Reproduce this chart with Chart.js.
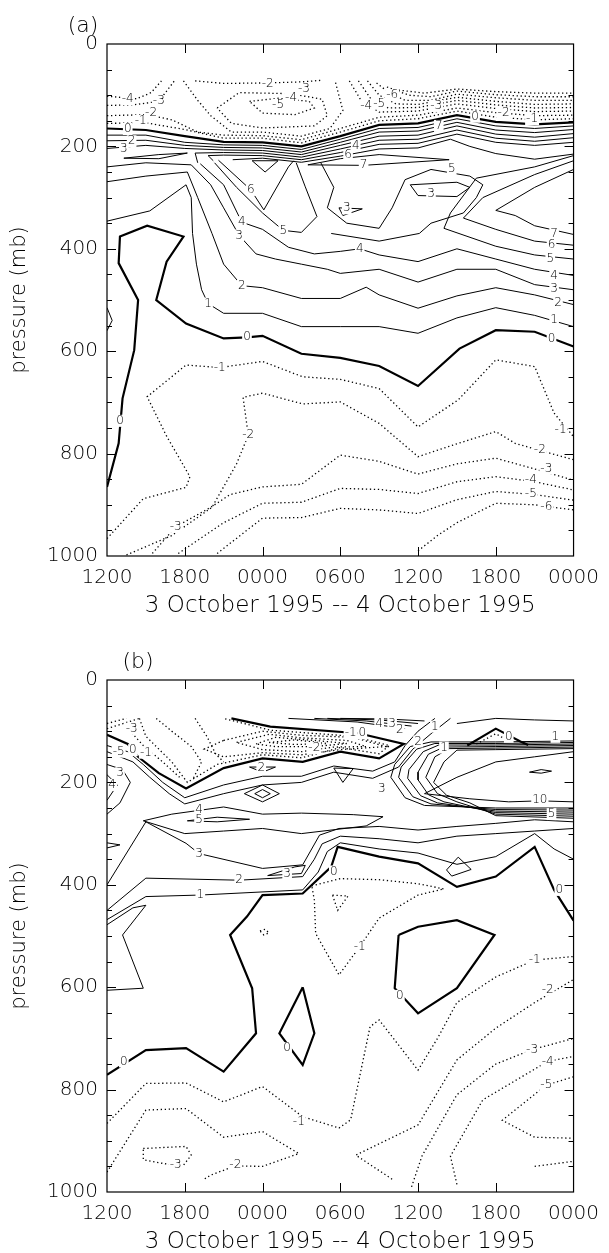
<!DOCTYPE html>
<html>
<head>
<meta charset="utf-8">
<script src="https://cdn.jsdelivr.net/npm/chart.js@4.4.1/dist/chart.umd.min.js"></script>
<style>
html, body { margin: 0; padding: 0; background: #fff; overflow: hidden; }
#wrap { position: relative; width: 609px; height: 1253px; overflow: hidden; }
canvas { position: absolute; left: 0; }
</style>
</head>
<body>
<div id="wrap">
  <canvas id="chartA" width="609" height="626" style="top:0px"></canvas>
  <canvas id="chartB" width="609" height="626" style="top:636px"></canvas>
</div>
<script>
// x = hours after 1200 UTC 3 Oct, y = pressure (mb)
var timeLabels = ['1200', '1800', '0000', '0600', '1200', '1800', '0000'];

// ---------- panel (a) ----------
var aZero = [
  [[0,165],[3,168],[6,180],[9,191],[12,192],[15,200],[18,180],[21,158],[24,155],[27,139],[30,152],[33,157],[36,153]],
  [[36,591],[33,562],[30,559],[27.2,595],[24,668],[21,629],[18,613],[15,605],[12,570],[10.8,573],[9,575],[6.1,546],[3.8,500],[4.6,425],[5.9,376],[3.1,355],[1,376],[0.9,428],[2.4,500],[2.1,598],[1.2,692],[0.9,780],[0,865]]
];
var aNeg = [
  [[0,155],[3,154],[6,167],[9,184],[12,184],[15,193],[18,172],[21,150],[24,146],[27,131],[30,143],[33,148],[36,146]],
  [[0,140],[3,138],[5,148],[7,172],[9,178],[12,179],[15,187],[18,165],[21,143],[24,139],[27,125],[30,134],[33,140],[36,139]],
  [[6.8,72],[9,77],[12.4,76],[15,74],[16.5,71]],
  [[0,120],[2,119],[4,112],[5.2,72]],
  [[0,102],[2.3,107],[3.4,95],[4.2,72]],
  [[5.9,72],[7,110],[8,140],[9.6,172],[12,172],[15,180],[17.2,165],[18.2,130],[17.6,72]],
  [[8.5,125],[10.2,95],[14.2,97],[16.6,108],[17,140],[16,160],[12,164],[9.6,155],[8.5,125]],
  [[11,112],[13.2,106],[15.6,112],[16,125],[14.5,138],[12,135],[11,112]],
  [[18.7,72],[19.6,110],[21,133],[24,131],[27,117],[30,126],[33,132],[36,131]],
  [[19.4,72],[20.3,105],[21.7,125],[24,124],[27,110],[30,119],[33,125],[36,124]],
  [[20.1,72],[21,100],[22.3,117],[24,118],[27,104],[30,112],[33,118],[36,117]],
  [[20.8,76],[21.8,96],[23,110],[25,110],[27,98],[30,105],[33,110],[36,110]],
  [[21.6,84],[23.3,100],[25,103],[27,92],[30,99],[33,103],[36,103]],
  [[22.5,90],[24.5,96],[27,88],[30,93],[33,96],[36,96]],
  [[0,966],[2.8,888],[6.1,866],[6.4,845],[4.6,766],[3.1,689],[6.1,627],[8.7,632],[12,620],[15.1,650],[18,655],[21,673],[24,748],[27.1,695],[30,617],[33,630],[34.5,721],[36,767]],
  [[1.5,998],[5,960],[8.1,905],[10,820],[10.9,764],[10.5,690],[12,682],[15.1,703],[18,699],[21,741],[24,806],[27.1,780],[30,757],[31.5,780],[33.3,793],[36,812]],
  [[3.5,995],[5.3,943],[8,905],[9.5,880],[12,865],[15,860],[18,803],[21,815],[24,840],[27,820],[30,809],[33,830],[36,852]],
  [[5.5,995],[9,935],[12,897],[15,895],[18,868],[21,870],[24,878],[27,855],[30,845],[33,855],[36,871]],
  [[8.5,995],[12,926],[15,925],[18,907],[21,910],[24,917],[27,890],[30,874],[33,880],[36,891]],
  [[24,990],[25.5,960],[27,935],[30,897],[33,900],[36,910]]
];
var aPos = [
  [[0,178],[3,178],[6,192],[9,197],[12,198],[15,206],[18,186],[21,165],[24,163],[27,146],[30,160],[33,165],[36,160]],
  [[0,189],[3,188],[6,198],[9,202],[12,203],[15,211],[18,192],[21,172],[24,170],[27,153],[30,168],[33,173],[36,167]],
  [[0,204],[3,198],[6,204],[9,207],[12,208],[15,216],[18,198],[21,180],[24,178],[27,160],[30,176],[33,182],[36,175]],
  [[1.3,223],[4,216],[6.2,213],[4,224],[1.3,223]],
  [[7,232],[6.8,213],[9,212],[12,213],[15,221],[18,205],[21,188],[24,186],[27,168],[30,184],[33,190],[36,183]],
  [[8.2,228],[7.8,218],[9,217],[12,218],[15,226],[18,212],[21,196],[24,194],[27,176],[30,192],[33,198],[36,192]],
  [[9.7,226],[12,223],[15,231],[18,219],[21,205],[24,203],[26.5,186],[28,200],[30,214],[33,225],[36,215]],
  [[15.5,236],[19.8,237],[26.4,226],[21,216],[18,224],[15.5,236]],
  [[8.6,227],[11.1,285],[12.1,324],[14,240],[14.4,228]],
  [[11.2,228],[13.2,228],[12.2,250],[11.2,228]],
  [[0,240],[3,232],[6.5,236],[8,275],[9,320],[10.2,374],[11.5,410],[13,420],[15,430],[17,440],[18,448],[21,440],[24,465],[27,440],[30,440],[33,470],[36,480]],
  [[0,269],[3,258],[6.2,250],[7,300],[8.1,370],[9,430],[10.4,472],[12,476],[15,497],[18,497],[20,475],[21,490],[24,516],[27,492],[30,476],[33,490],[36,509]],
  [[0,346],[3.3,326],[6.1,275],[6.5,300],[6.6,370],[6.9,430],[7.3,480],[7.8,507],[9,526],[12,526],[15,552],[18,552],[21,552],[24,565],[27,535],[30,515],[33,530],[36,552]],
  [[0,515],[0.4,540],[0,560]],
  [[7.2,234],[9,275],[10.4,348],[12,362],[14,397],[16,410],[18,405],[19.5,400],[21,412],[24,425],[27,400],[30,420],[33,440],[36,452]],
  [[8.3,232],[10,280],[12,330],[13.6,364],[15,368],[16.2,337],[15.3,279],[14.6,232]],
  [[16.5,232],[17.5,280],[17,320],[18.5,350],[21,360],[22,320],[23,265],[25,245],[28,258],[29,275],[28.5,300],[27.5,330],[25,350],[24.1,370],[21,385],[17.3,370]],
  [[23.4,275],[27,270],[28,280],[27,298],[24,296],[23.4,275]],
  [[17.9,320],[19.7,322],[18.2,335],[17.9,320]],
  [[36,245],[33,280],[30,325],[31.5,335],[33,355],[36,372]],
  [[36,228],[33,255],[29,300],[27.5,340],[30,362],[33,385],[36,393]],
  [[36,218],[33,240],[28.5,262],[26.5,330],[26,360],[30,395],[33,412],[36,420]]
];
var aLabels = [
  [1.6,108,'-4'],[4,112,'-3'],[3.4,135,'-2'],[2.6,150,'-1'],[1.6,166,'0'],[1.9,190,'2'],[1.3,204,'3'],
  [12.4,77,'-2'],[15.2,88,'-3'],[14.2,105,'-4'],[13.2,119,'-5'],[22,100,'-6'],[20,121,'-4'],[21,116,'-5'],
  [25.4,121,'-3'],[30.6,135,'-2'],[32.8,147,'-1'],[28.4,142,'0'],
  [19.2,199,'4'],[18.6,217,'6'],[19.8,236,'7'],[25.6,160,'7'],[26.6,244,'5'],[25,293,'3'],[18.5,321,'3'],
  [11.1,285,'6'],[10.4,348,'4'],[13.6,365,'5'],[10.2,374,'3'],[19.5,400,'4'],[10.4,472,'2'],[7.8,507,'1'],[10.8,572,'0'],
  [34.5,370,'7'],[34.3,393,'6'],[34.2,420,'5'],[34.5,452,'4'],[34.5,479,'3'],[34.8,506,'2'],[34.5,539,'1'],[34.3,575,'0'],
  [8.7,632,'-1'],[10.9,764,'-2'],[5.3,943,'-3'],[35,754,'-1'],[33.4,793,'-2'],[33.9,829,'-3'],[32.7,852,'-4'],[32.7,878,'-5'],[33.9,904,'-6'],
  [1,736,'0']
];

// ---------- panel (b) ----------
var bZero = [
  [[0,107],[1.6,125],[2.4,150],[4,182],[6.1,212],[9,172],[12,153],[15.1,160],[18,140],[21,153],[22.9,125],[19.4,104],[12.6,91],[9.6,75]],
  [[27.8,128],[30,95],[31.9,120],[32.5,127]],
  [[0,771],[3,723],[6.1,719],[9,765],[11.5,690],[11.2,602],[9.5,498],[10.8,462],[12,420],[15.1,417],[17.3,365],[17.8,326],[21,345],[24,358],[27,404],[30,384],[33,326],[34.5,410],[36,470]],
  [[22.5,498],[24,482],[27,469],[29.9,498],[27,602],[24,651],[22.2,602],[22.5,498]],
  [[15.1,600],[16,690],[15.1,752],[13.3,690],[15.1,600]]
];
var bNeg = [
  [[2.5,75],[3,110],[5,160],[6.2,200],[8.5,165],[12,146],[15,152],[18,132],[21,144],[21.8,128],[19,110],[12.6,98],[9,75]],
  [[9,118],[12,100],[15,108],[19,112],[21.5,130],[18,136],[15,146],[12,142],[9,150],[7.5,135],[9,118]],
  [[10,122],[12.5,106],[15,113],[18.5,118],[20,130],[17.5,131],[15,140],[12,136],[10,122]],
  [[11.5,125],[13,112],[16,118],[18.5,124],[16,130],[13,130],[11.5,125]],
  [[12.5,122],[14.5,117],[17,124],[14.5,126],[12.5,122]],
  [[3.8,75],[5,100],[6.5,130],[7.3,160],[6.6,195]],
  [[6.8,75],[7.7,110],[8.4,145],[9,160]],
  [[1.5,92],[2.8,128],[4.3,160],[5.6,190]],
  [[0,85],[1.5,75]],
  [[0,95],[2.5,75]],
  [[28.5,125],[30,105],[31.2,122]],
  [[0,866],[3,788],[6.1,787],[9,824],[12,794],[15.1,853],[17.9,875],[18.8,859],[20.3,677],[21,664],[24,762],[25.5,700],[27,630],[30,580],[33,547],[36,540]],
  [[15.8,402],[18,388],[21,390],[24,398],[26,408],[24,420],[21,465],[19.5,521],[17.9,576],[16.1,495],[16,430],[15.8,402]],
  [[17.4,420],[18.6,422],[17.8,450],[17.4,420]],
  [[11.8,490],[12.2,487],[12.5,494],[12.1,498],[11.8,490]],
  [[0,961],[3,840],[6.1,837],[9,893],[12,882],[14.8,925],[12,950],[9.9,949],[8,967],[7.5,975]],
  [[2.8,915],[6.1,911],[6.5,928],[5.8,951],[2.8,937],[2.8,915]],
  [[22,975],[19.2,928],[24,869],[27,742],[30,680],[33,630],[36,585]],
  [[23.5,990],[24.3,930],[27,810],[30,750],[32.8,722],[36,700]],
  [[27,985],[26.5,930],[29,820],[34,745],[36,735]],
  [[36,775],[33.9,791],[30.5,860],[33,893],[36,895]],
  [[33,950],[36,940]]
];
var bPos = [
  [[0,165],[1.2,175],[1.8,200],[1,240],[0,262]],
  [[0,185],[0.8,205],[0,235]],
  [[0,128],[1.6,140],[2.8,165],[4.3,200],[6,230],[9,205],[12,188],[15,188],[17.5,168],[20.5,178],[22.2,160],[23,128],[24,100],[25.3,75]],
  [[0,140],[2,160],[3.3,190],[4.8,222],[6,242],[9,222],[12,205],[15,200],[17.5,180],[20.5,192],[22.5,170],[23.6,135],[25,105],[26.5,75]],
  [[11,170],[13,170],[12,180],[11,170]],
  [[10.6,222],[12,205],[13.3,222],[12,238],[10.6,222]],
  [[11.4,222],[12,214],[12.6,222],[12,230],[11.4,222]],
  [[17.5,172],[19,173],[18.2,200],[17.5,172]],
  [[14,75],[19.3,82],[23,95]],
  [[16,75],[20,80],[23.5,90]],
  [[17,75],[21,78],[24,85]],
  [[18,75],[21.5,76],[24.5,80]],
  [[27,85],[30,75],[33,78],[36,80]],
  [[36,119],[30,121],[25,121],[23.4,130],[22.2,165],[21.9,190],[23,230],[24.5,245],[30,250],[36,250]],
  [[36,122],[30,124],[25.3,124],[23.9,135],[22.7,170],[22.5,190],[23.6,228],[25,242],[30,253],[36,254]],
  [[36,125],[30,127],[25.6,127],[24.4,140],[23.3,175],[23.2,192],[24.2,226],[25.5,240],[30,256],[36,258]],
  [[36,128],[30,130],[26,131],[24.8,145],[24,180],[24,195],[24.8,224],[26,238],[30,259],[36,262]],
  [[36,131],[30,133],[26.4,134],[25.3,150],[24.6,190],[25.5,222],[27,238],[30,262],[36,266]],
  [[36,134],[30,136],[27,137],[26,160],[25.2,200],[26.2,225],[28,240],[30,265],[36,270]],
  [[36,140],[33,150],[30,160],[27,190],[24.5,222],[28,232],[31,238],[33.4,236],[36,238]],
  [[32.6,180],[33.5,175],[34.3,178],[33.5,182],[32.6,180]],
  [[2.8,275],[5,262],[9,248],[12,262],[15,260],[19,263],[21.3,267],[20,285],[15,300],[12,290],[9,295],[6,300],[2.8,275]],
  [[6.2,275],[8.5,268],[11,272],[8.5,277],[6.2,275]],
  [[0,318],[1,322],[0,328]],
  [[0,400],[3,277],[6.1,319],[7.1,339],[12,368],[15.1,361],[16.4,303],[17.9,290],[21,286],[24,293],[27,286],[30,280],[33,273],[36,277]],
  [[0,450],[3,387],[10.2,391],[15.1,384],[16,350],[16.6,320],[18,305],[21,310],[24,318],[27,305],[30,300],[33,295],[36,290]],
  [[0,468],[3,423],[7.2,420],[15.1,410],[16.3,375],[17,335],[18,318],[21,330],[24,338],[27,360],[30,345],[33,300],[34.5,330],[36,350]],
  [[0,478],[2,445],[3,440],[1.2,498],[2.8,602],[0,606]],
  [[12.4,382],[14.5,365],[15.3,362],[15,378],[12.4,382]],
  [[26.2,371],[27.1,346],[28.1,370],[26.6,383],[26.2,371]]
];
var bLabels = [
  [1.9,95,'-3'],[0.9,140,'-5'],[2,137,'0'],[3,142,'-1'],[1,182,'3'],[0.4,205,'4'],
  [11.9,172,'2'],[7.1,253,'4'],[7.1,273,'5'],[7.1,339,'3'],[10.2,391,'2'],[7.2,420,'1'],[13.9,378,'3'],[17.5,374,'0'],[21.2,212,'3'],
  [16,133,'-2'],[19.7,104,'0'],[18.8,104,'-1'],[21,85,'4'],[22,86,'3'],[22.6,98,'2'],[25.3,91,'1'],[24,120,'2'],[26,132,'1'],
  [31,111,'0'],[34.6,111,'1'],[33.4,234,'10'],[34.3,262,'5'],
  [34.9,410,'0'],[22.6,617,'0'],[13.9,719,'0'],[1.3,745,'0'],
  [19.5,521,'-1'],[33,547,'-1'],[34,605,'-2'],[32.8,722,'-3'],[34,745,'-4'],[33.9,791,'-5'],[14.8,863,'-1'],[9.9,947,'-2'],[5.3,947,'-3']
];

var FONT = 'DejaVu Sans';

function toSets(lines, kind) {
  return lines.map(function (pts) {
    return {
      data: pts.map(function (q) { return { x: q[0], y: q[1] }; }),
      showLine: true,
      pointRadius: 0,
      borderColor: '#000',
      borderWidth: kind === 'zero' ? 2.2 : (kind === 'neg' ? 1.3 : 1),
      borderDash: kind === 'neg' ? [1.3, 2.7] : [],
      tension: 0,
      fill: false
    };
  });
}

var framePlugin = {
  id: 'frame',
  afterDatasetsDraw: function (chart, args, opts) {
    var ctx = chart.ctx, x = chart.scales.x, y = chart.scales.y;
    ctx.save();
    ctx.font = '200 12px ' + FONT;
    ctx.textAlign = 'center';
    ctx.textBaseline = 'middle';
    opts.labels.forEach(function (l) {
      var px = x.getPixelForValue(l[0]), py = y.getPixelForValue(l[1]);
      var w = ctx.measureText(l[2]).width;
      ctx.fillStyle = '#fff';
      ctx.fillRect(px - w / 2 - 1, py - 6, w + 2, 12);
      ctx.fillStyle = '#000';
      ctx.fillText(l[2], px, py);
    });
    ctx.restore();
  },
  afterDraw: function (chart, args, opts) {
    var ctx = chart.ctx, a = chart.chartArea, x = chart.scales.x, y = chart.scales.y;
    ctx.save();
    ctx.strokeStyle = '#000';
    ctx.lineWidth = 1.2;
    ctx.strokeRect(a.left, a.top, a.right - a.left, a.bottom - a.top);
    ctx.lineWidth = 1;
    ctx.beginPath();
    for (var v = 6; v < 36; v += 6) {
      var px = Math.round(x.getPixelForValue(v)) + 0.5;
      ctx.moveTo(px, a.bottom); ctx.lineTo(px, a.bottom - 9);
      ctx.moveTo(px, a.top); ctx.lineTo(px, a.top + 9);
    }
    for (var p = 50; p < 1000; p += 50) {
      var py = Math.round(y.getPixelForValue(p)) + 0.5;
      var len = p % 200 === 0 ? 9 : 5;
      ctx.moveTo(a.left, py); ctx.lineTo(a.left + len, py);
      ctx.moveTo(a.right, py); ctx.lineTo(a.right - len, py);
    }
    ctx.stroke();
    ctx.fillStyle = '#000';
    ctx.font = '200 22px ' + FONT;
    ctx.textAlign = 'center';
    ctx.textBaseline = 'middle';
    ctx.fillText(opts.panel, opts.panelX, 26);
    ctx.restore();
  }
};

function makeChart(id, zero, neg, pos, labels, panel, panelX) {
  var sets = toSets(pos, 'pos').concat(toSets(neg, 'neg'), toSets(zero, 'zero'));
  return new Chart(document.getElementById(id), {
    type: 'scatter',
    data: { datasets: sets },
    plugins: [framePlugin],
    options: {
      responsive: false,
      animation: false,
      events: [],
      layout: { padding: { top: 44, right: 29, left: 0, bottom: 0 } },
      plugins: {
        legend: { display: false },
        tooltip: { enabled: false },
        frame: { labels: labels, panel: panel, panelX: panelX }
      },
      scales: {
        x: {
          type: 'linear', min: 0, max: 36, position: 'bottom',
          afterFit: function (s) { s.height = 70; },
          grid: { display: false, drawTicks: false },
          border: { display: false },
          ticks: {
            stepSize: 6, padding: 10, color: '#000', maxRotation: 0, autoSkip: false,
            font: { family: FONT, size: 20, weight: '200' },
            callback: function (v) { return timeLabels[v / 6]; }
          },
          title: {
            display: true, text: '3 October 1995 -- 4 October 1995', color: '#000',
            font: { family: FONT, size: 23, weight: '200' }, padding: { top: 0, bottom: 6 }
          }
        },
        y: {
          type: 'linear', min: 0, max: 1000, reverse: true,
          afterFit: function (s) { s.width = 107; },
          grid: { display: false, drawTicks: false },
          border: { display: false },
          ticks: {
            stepSize: 200, padding: 9, color: '#000',
            font: { family: FONT, size: 20, weight: '200' },
            callback: function (v) { return String(v); }
          },
          title: {
            display: true, text: 'pressure (mb)', color: '#000',
            font: { family: FONT, size: 21, weight: '200' }, padding: { top: 7, bottom: 0 }
          }
        }
      }
    }
  });
}

makeChart('chartA', aZero, aNeg, aPos, aLabels, '(a)', 83);
makeChart('chartB', bZero, bNeg, bPos, bLabels, '(b)', 138);
</script>
</body>
</html>
